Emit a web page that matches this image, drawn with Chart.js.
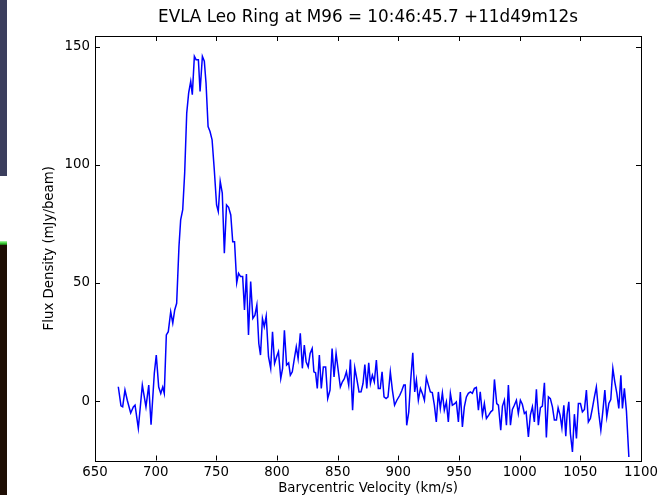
<!DOCTYPE html>
<html>
<head>
<meta charset="utf-8">
<title>EVLA Leo Ring at M96</title>
<script src="https://cdn.jsdelivr.net/npm/chart.js@4.4.0/dist/chart.umd.min.js"></script>
<style>
    body { margin: 0; background: #ffffff; }
    #wrap { position: relative; width: 659px; height: 495px; overflow: hidden; }
    #chart_spec { position: absolute; left: 0; top: 0; }
    .edge { position: absolute; left: 0; width: 7px; }
    #edge_top { top: 0; height: 176px; background: #3b3e5d; }
    #edge_green { top: 241px; height: 4px; background: linear-gradient(#b8f5b0, #3fd83a 50%, #1d6a12); }
    #edge_bottom { top: 245px; height: 250px; background: #1e0e04; }
</style>
</head>
<body>
<div id="wrap">
    <canvas id="chart_spec" width="659" height="495"></canvas>
    <div class="edge" id="edge_top"></div>
    <div class="edge" id="edge_green"></div>
    <div class="edge" id="edge_bottom"></div>
</div>
<script>
// barycentric velocity of each channel (km/s)
var velocity = [
    669.2, 671.4, 672.8, 674.7, 676.6, 679.4, 681.6, 683.0, 685.7, 689.0,
    692.0, 694.3, 696.2, 698.9, 700.5, 702.5, 704.2, 705.8, 707.1, 708.8,
    710.4, 712.4, 714.1, 715.7, 717.3, 719.2, 720.6, 722.3, 723.9, 725.6,
    727.2, 728.9, 730.2, 731.9, 733.3, 735.2, 736.6, 738.5, 740.1, 741.5,
    743.2, 744.8, 746.5, 748.3, 750.2, 751.6, 753.2, 754.9, 756.6, 758.4,
    760.1, 761.9, 763.5, 765.0, 766.8, 768.3, 770.0, 771.7, 773.2, 774.8,
    776.5, 778.3, 780.1, 781.8, 783.4, 785.0, 786.4, 788.0, 789.5, 791.1,
    793.0, 794.8, 796.3, 798.0, 799.7, 801.2, 803.1, 804.6, 806.1, 807.9,
    809.6, 811.0, 812.6, 814.3, 815.9, 817.4, 819.2, 820.9, 822.5, 824.0,
    825.7, 827.3, 829.0, 830.4, 831.8, 833.2, 834.9, 836.5, 838.2, 840.1,
    841.8, 843.7, 845.4, 847.0, 848.7, 850.6, 852.2, 853.9, 855.5, 857.2,
    859.1, 860.5, 862.3, 864.1, 865.7, 867.6, 869.3, 870.9, 872.4, 874.0,
    875.6, 877.0, 878.6, 880.2, 881.9, 883.5, 885.1, 886.6, 888.2, 889.9,
    891.5, 893.4, 895.1, 896.9, 898.8, 901.2, 902.8, 904.5, 905.7, 906.9,
    908.6, 910.2, 911.9, 913.5, 914.9, 916.5, 918.2, 919.8, 921.5, 923.1,
    924.8, 926.4, 928.0, 929.7, 931.3, 933.0, 934.6, 936.3, 937.9, 939.6,
    941.2, 942.9, 944.5, 946.2, 947.8, 949.5, 951.1, 952.8, 954.4, 956.1,
    957.7, 959.4, 961.0, 962.7, 964.3, 966.0, 967.5, 969.3, 970.9, 972.6,
    974.5, 976.2, 977.8, 979.2, 981.1, 982.5, 984.4, 985.8, 987.4, 989.1,
    990.7, 992.4, 994.0, 995.6, 997.3, 998.9, 1000.6, 1002.2, 1003.9, 1005.3,
    1007.2, 1008.8, 1010.5, 1012.1, 1013.8, 1015.4, 1017.1, 1018.7, 1020.4, 1022.0,
    1023.7, 1025.3, 1027.0, 1028.6, 1030.3, 1031.7, 1033.3, 1034.8, 1036.4, 1038.0,
    1039.1, 1040.5, 1041.8, 1043.5, 1045.1, 1046.8, 1048.4, 1050.1, 1051.7, 1053.4,
    1055.0, 1056.6, 1058.3, 1059.9, 1061.6, 1063.2, 1065.2, 1066.9, 1068.5, 1070.2,
    1071.8, 1073.5, 1075.1, 1076.8, 1078.4, 1080.1, 1081.7, 1083.4, 1084.7, 1086.3,
    1088.0, 1090.0
]

// flux density per channel (mJy/beam)
var flux = [
    6.1, -2.0, -2.4, 4.7, 0.4, -5.0, -2.4, -1.7, -11.5, 6.8,
    -2.4, 6.8, -10.0, 11.9, 19.5, 6.0, 3.3, 6.0, 3.3, 28.0,
    29.4, 37.8, 33.0, 38.6, 41.4, 65.4, 76.7, 81.0, 96.5, 121.9,
    130.4, 135.3, 129.7, 145.9, 144.5, 144.5, 131.0, 145.9, 143.8, 134.6,
    116.2, 114.1, 110.6, 98.0, 83.0, 80.2, 93.0, 88.0, 62.6, 83.0,
    82.0, 78.8, 67.5, 67.5, 50.1, 54.1, 52.7, 52.7, 38.6, 53.8,
    28.0, 50.6, 35.0, 36.4, 40.7, 24.4, 19.5, 35.0, 31.5, 36.0,
    18.8, 13.9, 29.4, 16.0, 18.8, 20.9, 9.6, 13.9, 30.0, 15.3,
    16.2, 11.0, 12.4, 18.0, 23.0, 18.0, 28.7, 13.9, 23.7, 16.7,
    14.5, 20.2, 22.3, 12.4, 12.0, 5.4, 19.5, 5.4, 14.5, 14.5,
    1.1, 4.7, 22.3, 10.3, 20.2, 12.4, 6.0, 8.2, 9.5, 12.4,
    6.8, 17.6, -3.8, 14.1, 9.6, 3.9, 4.0, 7.5, 15.5, 5.4,
    16.2, 7.5, 11.0, 8.2, 17.4, 5.4, 5.4, 12.4, 1.8, 1.1,
    1.8, 12.4, 4.7, -1.7, 0.4, 2.5, 4.4, 6.8, 6.8, -10.2,
    -4.5, 8.9, 20.5, 3.9, 8.9, 0.4, 5.4, 3.3, 0.4, 9.9,
    6.8, 3.9, 3.6, -1.7, -8.8, 3.9, -3.1, 3.5, -3.8, -0.3,
    -8.8, 3.3, -1.7, -1.2, -0.3, -8.8, 3.9, -10.9, -2.4, 1.8,
    3.3, 3.9, 3.3, 5.4, 5.8, -3.8, 4.0, -5.9, -1.0, -7.3,
    -5.9, -4.5, -3.8, 9.2, -1.0, -1.7, -12.3, -2.1, 0.4, -10.2,
    6.8, -10.2, -3.5, -1.7, 0.4, -5.2, 0.4, -1.3, -5.2, -4.5,
    -15.1, -5.9, -2.4, -8.8, 5.0, -10.2, -2.7, -2.1, 7.8, -15.4,
    1.8, 1.1, -2.4, -8.0, -8.0, -2.8, -5.9, -11.2, -1.7, -14.8,
    -5.5, -0.3, -13.7, -21.5, -5.5, -15.8, -1.0, -1.0, -4.5, -3.5,
    4.7, -8.8, -7.3, -3.1, 1.8, 6.0, -5.2, -12.3, -4.5, 4.7,
    -6.6, -1.0, 0.7, 13.9, 8.2, 3.3, -3.1, 11.0, -3.1, 5.4,
    -4.2, -23.6
]

var x_ticks = [650, 700, 750, 800, 850, 900, 950, 1000, 1050, 1100]
var y_ticks = [0, 50, 100, 150]
var x_range = [650, 1100]
var y_range = [-25.1, 154.5]

var chart_title = 'EVLA Leo Ring at M96 = 10:46:45.7 +11d49m12s'
var x_title = 'Barycentric Velocity (km/s)'
var y_title = 'Flux Density (mJy/beam)'

var font_name = '"DejaVu Sans", "Liberation Sans", sans-serif'

// title centred over the axes box, plus the box itself with inward ticks on all sides
var frame_plugin = {
    id: 'frame',
    afterDatasetsDraw: function (chart) {
        var ctx = chart.ctx
        var area = chart.chartArea
        var xs = chart.scales.x
        var ys = chart.scales.y
        var len = 5
        ctx.save()
        ctx.strokeStyle = '#000000'
        ctx.lineWidth = 1
        ctx.beginPath()
        x_ticks.forEach(function (v) {
            var px = Math.round(xs.getPixelForValue(v)) + 0.5
            ctx.moveTo(px, area.bottom)
            ctx.lineTo(px, area.bottom - len)
            ctx.moveTo(px, area.top)
            ctx.lineTo(px, area.top + len)
        })
        y_ticks.forEach(function (v) {
            var py = Math.round(ys.getPixelForValue(v)) + 0.5
            ctx.moveTo(area.left, py)
            ctx.lineTo(area.left + len, py)
            ctx.moveTo(area.right, py)
            ctx.lineTo(area.right - len, py)
        })
        ctx.stroke()
        ctx.strokeRect(Math.round(area.left) + 0.5, Math.round(area.top) + 0.5,
            Math.round(area.right - area.left), Math.round(area.bottom - area.top))

        ctx.fillStyle = '#000000'
        ctx.font = '16.8px ' + font_name
        ctx.textAlign = 'center'
        ctx.textBaseline = 'middle'
        ctx.fillText(chart_title, (area.left + area.right) / 2, 18)
        ctx.restore()
    }
}

var chart_spec = new Chart(document.getElementById('chart_spec'), {
    type: 'line',
    data: {
        datasets: [
            {
                data: velocity.map(function (v, i) {
                    return { x: v, y: flux[i] }
                }),
                borderColor: '#0000ff',
                borderWidth: 1.5,
                pointRadius: 0,
                tension: 0,
                fill: false
            }
        ]
    },
    options: {
        responsive: false,
        animation: false,
        layout: {
            padding: { left: 0, right: 18, top: 36, bottom: 0 }
        },
        plugins: {
            legend: { display: false },
            tooltip: { enabled: false },
            title: { display: false }
        },
        scales: {
            x: {
                type: 'linear',
                min: x_range[0],
                max: x_range[1],
                afterBuildTicks: function (scale) {
                    scale.ticks = x_ticks.map(function (v) { return { value: v } })
                },
                afterFit: function (scale) {
                    scale.height = 34.5
                    scale.paddingLeft = 0
                    scale.paddingRight = 0
                },
                grid: { display: false, drawTicks: false },
                border: { display: false },
                ticks: {
                    color: '#000000',
                    padding: 4,
                    maxRotation: 0,
                    autoSkip: false,
                    font: { family: font_name, size: 13.33 },
                    callback: function (value) {
                        return String(value)
                    }
                },
                title: {
                    display: true,
                    text: x_title,
                    color: '#000000',
                    font: { family: font_name, size: 13.33 },
                    padding: { top: 0, bottom: -2 }
                }
            },
            y: {
                type: 'linear',
                min: y_range[0],
                max: y_range[1],
                afterBuildTicks: function (scale) {
                    scale.ticks = y_ticks.map(function (v) { return { value: v } })
                },
                afterFit: function (scale) {
                    scale.width = 95
                    scale.paddingTop = 0
                    scale.paddingBottom = 0
                },
                grid: { display: false, drawTicks: false },
                border: { display: false },
                ticks: {
                    color: '#000000',
                    padding: 5,
                    font: { family: font_name, size: 13.33 },
                    callback: function (value) {
                        return String(value)
                    }
                },
                title: {
                    display: true,
                    text: y_title,
                    color: '#000000',
                    font: { family: font_name, size: 13.33 },
                    padding: { top: 42, bottom: 0 }
                }
            }
        }
    },
    plugins: [frame_plugin]
})
</script>
</body>
</html>
